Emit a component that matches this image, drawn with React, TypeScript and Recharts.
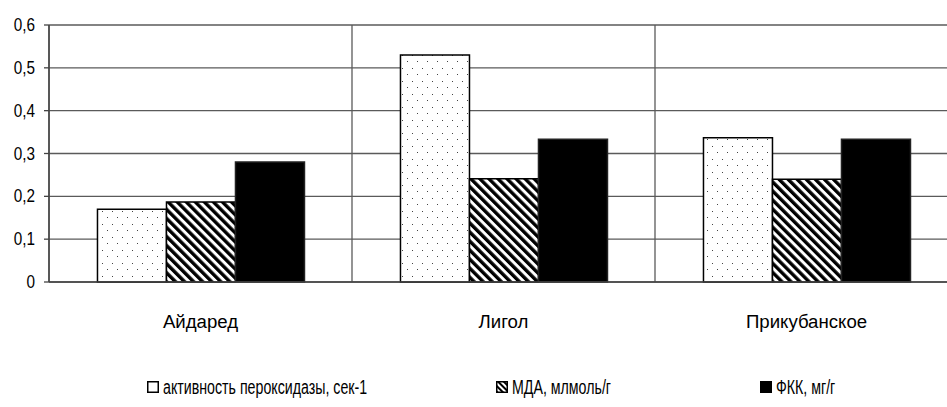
import React from "react";
import {
  BarChart,
  Bar,
  XAxis,
  YAxis,
  CartesianGrid,
  Legend,
} from "recharts";

// Сорта яблони
const varieties = ["Айдаред", "Лигол", "Прикубанское"];

// Показатели по сортам
const peroxidase = [0.17, 0.53, 0.337];
const mda = [0.187, 0.241, 0.24];
const fkk = [0.28, 0.333, 0.333];

const seriesNames = [
  "активность пероксидазы, сек-1",
  "МДА, млмоль/г",
  "ФКК, мг/г",
];

const yTicks = [0, 0.1, 0.2, 0.3, 0.4, 0.5, 0.6];
const boundaryTicks = [0, 1, 2, 3];
const legendLeft = [147, 496, 760];

const data = varieties.map((name, i) => ({
  name,
  // slot index on the numeric boundary axis (category centre)
  pos: i + 0.5,
  peroxidase: peroxidase[i],
  mda: mda[i],
  fkk: fkk[i],
}));

const FONT = "'Liberation Sans', Arial, sans-serif";

const fmt = (v: number) => String(v).replace(".", ",");

// Horizontally condensed SVG label
const NarrowText = ({
  x,
  y,
  text,
  anchor,
  size,
  sx,
  dy,
}: {
  x: number;
  y: number;
  text: string;
  anchor: "start" | "middle" | "end";
  size: number;
  sx: number;
  dy: number;
}) => (
  <text
    x={0}
    y={0}
    dy={dy}
    textAnchor={anchor}
    fontFamily={FONT}
    fontSize={size}
    fill="#000"
    transform={`translate(${x},${y}) scale(${sx},1)`}
  >
    {text}
  </text>
);

const YTick = (props: any) => {
  const { x, y, payload } = props;
  return (
    <NarrowText
      x={x - 7}
      y={y}
      dy={6}
      text={fmt(payload.value)}
      anchor="end"
      size={18}
      sx={0.85}
    />
  );
};

const XTick = (props: any) => {
  const { x, y, payload } = props;
  return (
    <NarrowText
      x={x}
      y={y}
      dy={38}
      text={payload.value}
      anchor="middle"
      size={19}
      sx={0.98}
    />
  );
};

const Patterns = () => (
  <defs>
    <pattern id="dots" width="10" height="13" patternUnits="userSpaceOnUse">
      <rect width="10" height="13" fill="#fff" />
      <rect x="2" y="3" width="1" height="1" fill="#444" />
      <rect x="7" y="9" width="1" height="1" fill="#444" />
    </pattern>
    <pattern
      id="hatch"
      width="6.4"
      height="6.4"
      patternUnits="userSpaceOnUse"
      patternTransform="rotate(-45)"
    >
      <rect width="6.4" height="6.4" fill="#fff" />
      <rect width="3.4" height="6.4" fill="#000" />
    </pattern>
  </defs>
);

const LegendIcon = ({ kind }: { kind: number }) => (
  <svg width="12" height="12" style={{ marginRight: 4, flex: "none" }}>
    <defs>
      <pattern
        id={`lh${kind}`}
        width="4"
        height="4"
        patternUnits="userSpaceOnUse"
        patternTransform="rotate(-45)"
      >
        <rect width="4" height="4" fill="#fff" />
        <rect width="2" height="4" fill="#000" />
      </pattern>
    </defs>
    <rect
      x="0.75"
      y="0.75"
      width="10.5"
      height="10.5"
      fill={kind === 0 ? "#fff" : kind === 1 ? `url(#lh${kind})` : "#000"}
      stroke="#000"
      strokeWidth="1.5"
    />
  </svg>
);

const LegendContent = () => (
  <div
    style={{
      position: "relative",
      height: 55,
      fontFamily: FONT,
      fontSize: 20,
      color: "#000",
      whiteSpace: "nowrap",
    }}
  >
    {seriesNames.map((n, i) => (
      <div
        key={n}
        style={{
          position: "absolute",
          left: legendLeft[i],
          top: 20,
          display: "flex",
          alignItems: "center",
          height: 30,
        }}
      >
        <LegendIcon kind={i} />
        <span
          style={{
            display: "inline-block",
            transform: "scaleX(0.71)",
            transformOrigin: "left center",
          }}
        >
          {n}
        </span>
      </div>
    ))}
  </div>
);

export default function App() {
  return (
    <div
      style={{
        position: "absolute",
        left: 0,
        top: 0,
        width: 947,
        height: 407,
        overflow: "hidden",
        background: "#fff",
      }}
    >
      <BarChart
        width={960}
        height={407}
        data={data}
        margin={{ top: 25, right: 2, bottom: 0, left: 0 }}
        barCategoryGap="16%"
        barGap={0}
      >
        <Patterns />
        <XAxis
          xAxisId="bounds"
          dataKey="pos"
          type="number"
          domain={[0, 3]}
          allowDataOverflow
          ticks={boundaryTicks}
          interval={0}
          height={0}
          axisLine={false}
          tickSize={6}
          tickLine={{ stroke: "#444", strokeWidth: 1.5 }}
          tick={() => <g />}
        />
        <XAxis
          dataKey="name"
          height={70}
          axisLine={{ stroke: "#444", strokeWidth: 1.5 }}
          tickLine={false}
          tick={<XTick />}
        />
        <YAxis
          width={49}
          domain={[0, 0.6]}
          ticks={yTicks}
          tickFormatter={fmt}
          axisLine={{ stroke: "#444", strokeWidth: 1.5 }}
          tickLine={{ stroke: "#444", strokeWidth: 1.3 }}
          tickSize={5}
          tick={<YTick />}
        />
        <CartesianGrid xAxisId="bounds" stroke="#5a5a5a" strokeWidth={1.3} />
        <Legend
          verticalAlign="bottom"
          height={55}
          content={<LegendContent />}
        />
        <Bar
          dataKey="peroxidase"
          name={seriesNames[0]}
          fill="url(#dots)"
          stroke="#000"
          strokeWidth={1.5}
          isAnimationActive={false}
        />
        <Bar
          dataKey="mda"
          name={seriesNames[1]}
          fill="url(#hatch)"
          stroke="#000"
          strokeWidth={1.5}
          isAnimationActive={false}
        />
        <Bar
          dataKey="fkk"
          name={seriesNames[2]}
          fill="#000"
          stroke="#222"
          strokeWidth={1.5}
          isAnimationActive={false}
        />
      </BarChart>
    </div>
  );
}
